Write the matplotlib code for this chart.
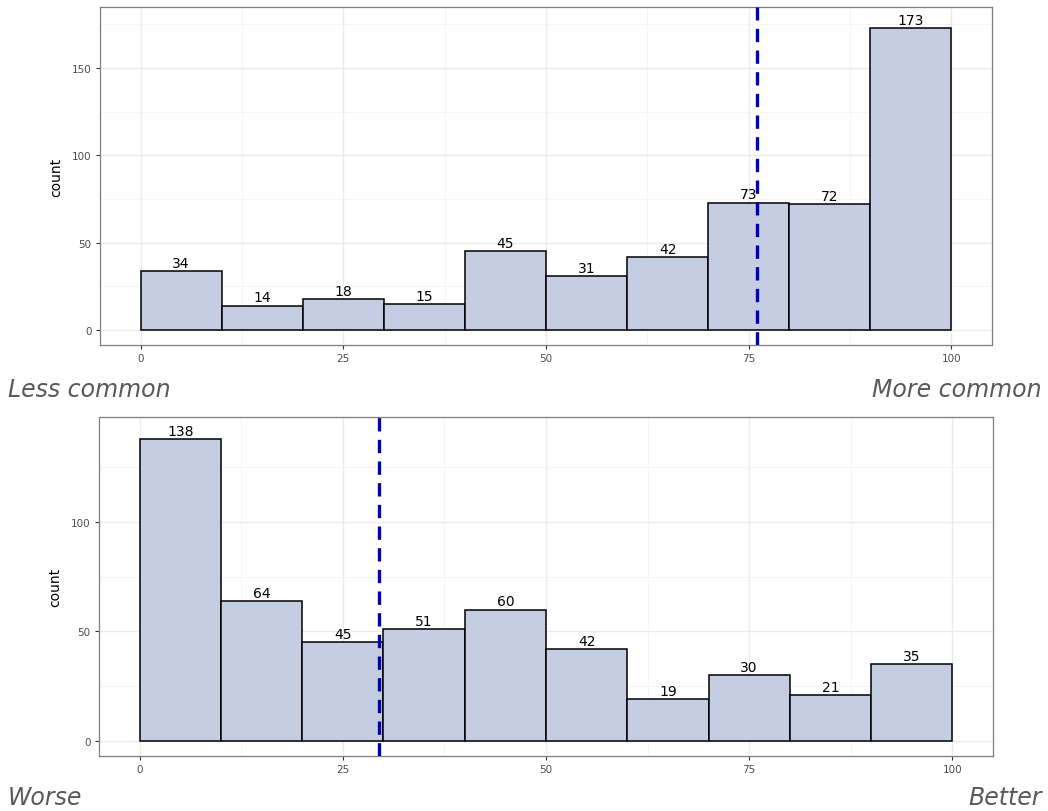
import numpy as np
import matplotlib
matplotlib.use("Agg")
import matplotlib.pyplot as plt
from matplotlib.ticker import MultipleLocator

# histogram counts, 10-point bins from 0 to 100
bin_edges = np.arange(0, 101, 10)
common_counts = [34, 14, 18, 15, 45, 31, 42, 73, 72, 173]
better_counts = [138, 64, 45, 51, 60, 42, 19, 30, 21, 35]
common_mean = 76.0
better_mean = 29.5

FILL = "#c5cde2"
GRID = "#ebebeb"
TICK = "#4d4d4d"

fig = plt.figure(figsize=(10.48, 8.12), dpi=100)
ax_top = fig.add_axes([100 / 1048, 1 - 346 / 812, 892 / 1048, 338 / 812])
ax_bot = fig.add_axes([99 / 1048, 1 - 757 / 812, 894 / 1048, 339 / 812])


def draw_hist(ax, counts, mean, ylim, major_y):
    lefts = bin_edges[:-1]
    ax.bar(lefts, counts, width=10, align="edge", color=FILL,
           edgecolor="black", linewidth=1.1, zorder=2)
    for x, c in zip(lefts, counts):
        ax.text(x + 5, c + 0.6, str(c), ha="center", va="bottom",
                fontsize=10, color="black", zorder=4)
    ax.axvline(mean, color="#0000b4", linestyle=(0, (4, 2.5)),
               linewidth=2.4, zorder=3)
    ax.set_xlim(-5, 105)
    ax.set_ylim(*ylim)
    ax.xaxis.set_major_locator(MultipleLocator(25))
    ax.xaxis.set_minor_locator(MultipleLocator(12.5))
    ax.yaxis.set_major_locator(MultipleLocator(major_y))
    ax.yaxis.set_minor_locator(MultipleLocator(major_y / 2))
    ax.grid(which="major", color=GRID, linewidth=1.0, zorder=0)
    ax.grid(which="minor", color="#f4f4f4", linewidth=0.6, zorder=0)
    ax.set_axisbelow(True)
    for s in ax.spines.values():
        s.set_color("#7f7f7f")
        s.set_linewidth(0.9)
    ax.tick_params(which="major", length=3, width=0.8, color="#333333",
                   labelsize=7.5, labelcolor=TICK, pad=3)
    ax.tick_params(which="minor", length=0)
    ax.set_ylabel("count", fontsize=10, labelpad=6)


draw_hist(ax_top, common_counts, common_mean, (-8.6, 185), 50)
draw_hist(ax_bot, better_counts, better_mean, (-6.9, 148), 50)

fig.text(8 / 1048, 1 - 390 / 812, "Less common", fontsize=17, style="italic",
         color="#595959", ha="left", va="center")
fig.text(1042 / 1048, 1 - 390 / 812, "More common", fontsize=17, style="italic",
         color="#595959", ha="right", va="center")
fig.text(8 / 1048, 1 - 798 / 812, "Worse", fontsize=17, style="italic",
         color="#595959", ha="left", va="center")
fig.text(1042 / 1048, 1 - 798 / 812, "Better", fontsize=17, style="italic",
         color="#595959", ha="right", va="center")

fig.savefig("out.png", dpi=100)
